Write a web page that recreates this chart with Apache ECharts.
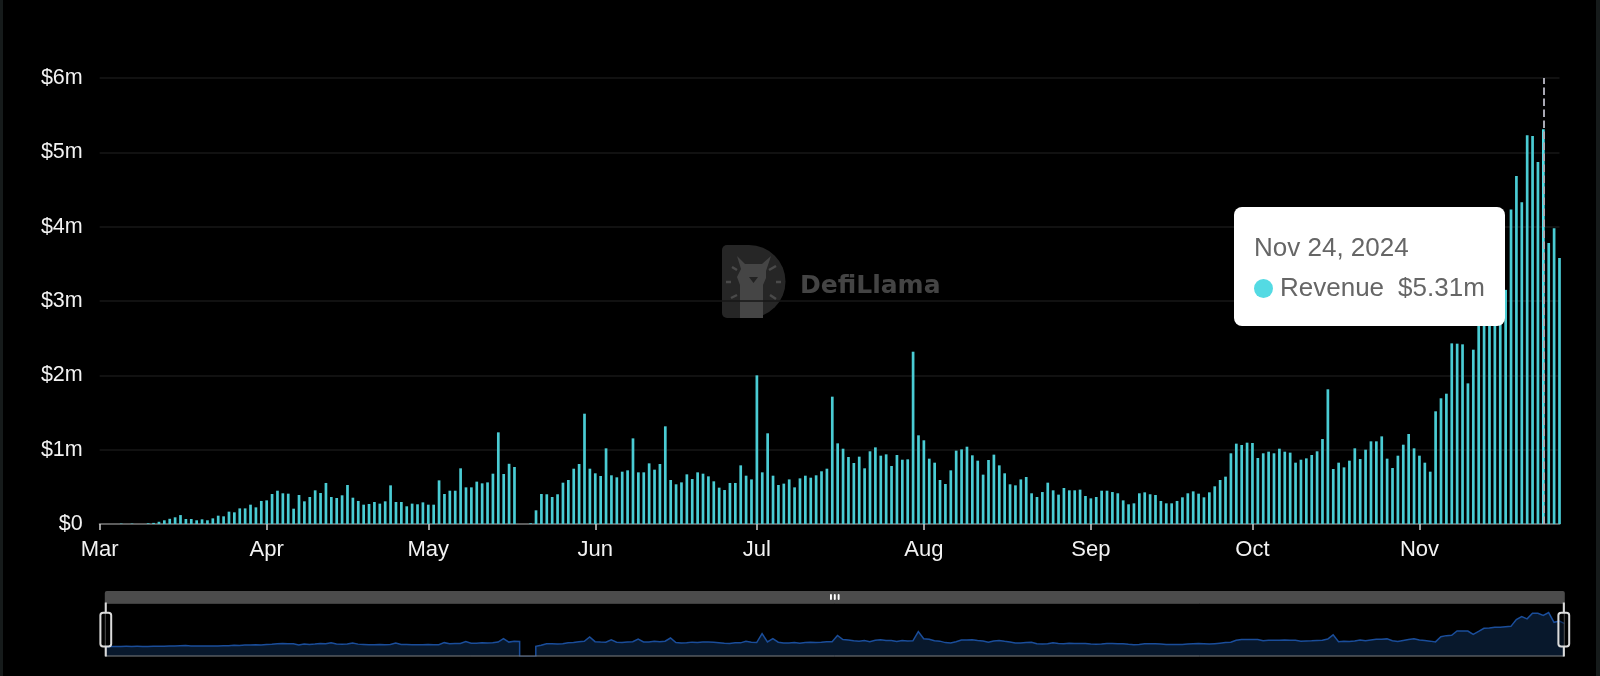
<!DOCTYPE html>
<html>
<head>
<meta charset="utf-8">
<style>html,body{margin:0;padding:0;background:#000}#c{width:1600px;height:676px}</style>
<script src="https://cdn.jsdelivr.net/npm/echarts@6/dist/echarts.min.js"></script>
</head>
<body>
<div id="c"></div>
<script>
// Daily revenue in $ millions, one entry per day from Mar 1, 2024
const revenue = [
0,0,0,0,0.005,0,0.005,0,0,0.01,0.015,0.03,0.05,0.07,0.09,0.12,
0.067,0.067,0.05,0.063,0.05,0.076,0.112,0.103,0.166,0.157,0.21,0.21,0.26,0.224,0.31,0.318,
0.404,0.448,0.413,0.408,0.206,0.39,0.305,0.363,0.453,0.417,0.552,0.363,0.35,0.386,0.525,0.354,
0.31,0.26,0.269,0.296,0.274,0.305,0.52,0.296,0.296,0.238,0.274,0.265,0.291,0.26,0.26,0.587,
0.404,0.448,0.448,0.749,0.493,0.493,0.57,0.547,0.56,0.677,1.233,0.673,0.81,0.767,null,null,
0.01,0.184,0.404,0.40,0.363,0.40,0.556,0.592,0.744,0.807,1.484,0.744,0.682,0.646,1.018,0.655,
0.628,0.704,0.722,1.152,0.695,0.695,0.816,0.731,0.807,1.314,0.592,0.534,0.56,0.668,0.605,0.695,
0.677,0.641,0.574,0.489,0.457,0.552,0.552,0.789,0.65,0.60,2.0,0.695,1.22,0.65,0.525,0.543,
0.60,0.493,0.614,0.65,0.623,0.655,0.709,0.744,1.713,1.085,1.013,0.901,0.821,0.906,0.749,0.978,
1.031,0.919,0.937,0.78,0.928,0.865,0.87,2.318,1.193,1.126,0.879,0.825,0.592,0.538,0.722,0.987,
1.004,1.04,0.924,0.852,0.664,0.861,0.933,0.789,0.682,0.534,0.52,0.60,0.632,0.413,0.363,0.43,
0.556,0.453,0.395,0.484,0.453,0.453,0.462,0.377,0.345,0.363,0.448,0.448,0.43,0.413,0.318,0.265,
0.278,0.413,0.426,0.40,0.39,0.31,0.278,0.278,0.31,0.359,0.413,0.439,0.408,0.359,0.426,0.507,
0.592,0.637,0.951,1.081,1.063,1.094,1.09,0.888,0.951,0.973,0.951,1.013,0.973,0.96,0.825,0.865,
0.883,0.928,0.978,1.143,1.812,0.74,0.825,0.762,0.852,1.018,0.874,1.0,1.112,1.112,1.179,0.879,
0.753,0.919,1.067,1.211,1.018,0.919,0.825,0.704,1.516,1.691,1.753,2.43,2.426,2.417,1.892,2.345,
2.85,2.9,3.0,3.0,3.1,3.15,4.23,4.68,4.33,5.23,5.22,4.87,5.31,3.78,3.98,3.58
];
const monthLabels = ['Mar','Apr','May','Jun','Jul','Aug','Sep','Oct','Nov'];
const monthStarts = [0,31,61,92,122,153,184,214,245];
const startDate = Date.UTC(2024,2,1);
const tooltipIndex = 268;
const seriesName = 'Revenue';
const barColor = '#4accd4';
const dotColor = '#54dae3';

const dayCats = revenue.map((_, i) => new Date(startDate + i*864e5)
  .toLocaleDateString('en-US',{month:'short',day:'numeric',year:'numeric',timeZone:'UTC'}));
const isMonth = i => monthStarts.indexOf(i) >= 0;
const font = '"Liberation Sans", Arial, sans-serif';

const chart = echarts.init(document.getElementById('c'), null, {renderer:'canvas'});
chart.setOption({
  animation:false,
  backgroundColor:'#000',
  textStyle:{fontFamily:font},
  grid:{left:99.7,right:40.5,top:78,bottom:152,containLabel:false},
  xAxis:{
    type:'category',
    data:dayCats,
    boundaryGap:false,
    axisLine:{show:true,lineStyle:{color:'#5c5c5c',width:2}},
    axisTick:{show:true,length:6,interval:(i)=>isMonth(i),lineStyle:{color:'#d0d0d0',width:1.5}},
    axisLabel:{show:true,interval:(i)=>isMonth(i),color:'#f2f2f2',fontSize:22,margin:15,fontFamily:font,
      formatter:(v,i)=>monthLabels[monthStarts.indexOf(i)]},
    splitLine:{show:false}
  },
  yAxis:{
    type:'value',min:0,max:6,interval:1,
    axisLine:{show:false},axisTick:{show:false},
    axisLabel:{color:'#f2f2f2',fontSize:21.5,margin:17,fontFamily:font,
      formatter:v=>v===0?'$0':'$'+v+'m'},
    splitLine:{lineStyle:{color:'#171717',width:1.5}}
  },
  tooltip:{
    trigger:'axis',triggerOn:'none',alwaysShowContent:true,transitionDuration:0,
    backgroundColor:'#fff',borderWidth:0,padding:0,
    extraCssText:'border-radius:8px;box-shadow:none;width:271px;height:119px;',
    position:()=>[1234,207],
    axisPointer:{type:'line',lineStyle:{color:'#a9a9b4',width:2,type:[7.5,3.5]}},
    formatter:(ps)=>{const p=ps[0];
      return '<div style="font-family:'+font.replace(/"/g,"'")+';color:#666;font-size:26px;line-height:40px;padding:20px 0 0 20px;white-space:nowrap">'+
      '<div>'+p.name+'</div><div>'+
      '<span style="display:inline-block;width:19px;height:19px;border-radius:50%;background:'+dotColor+';margin-right:7px;vertical-align:-2px"></span>'+
      p.seriesName+'<span style="margin-left:14px">$'+p.value.toFixed(2)+'m</span></div></div>';}
  },
  dataZoom:[{
    type:'slider',start:0,end:100,left:100,right:40,top:591,height:54,
    showDetail:false,brushSelect:true,showDataShadow:true,
    backgroundColor:'rgba(0,0,0,0)',fillerColor:'rgba(0,0,0,0)',
    borderColor:'#7c7c7c',borderRadius:0,
    moveHandleSize:12,
    moveHandleStyle:{color:'#4c4c4c',opacity:1},
    handleIcon:'path://M-9.35,34.56V42m0-40V9.5m-2,0h4a2,2,0,0,1,2,2v21a2,2,0,0,1-2,2h-4a2,2,0,0,1-2-2v-21A2,2,0,0,1-11.35,9.5Z',
    handleSize:'100%',
    handleStyle:{color:'rgba(0,0,0,0.35)',borderColor:'#dcdcdc',borderWidth:2},
    dataBackground:{lineStyle:{color:'#1a4d9a',width:1.5,opacity:1},areaStyle:{color:'#08182c',opacity:1}},
    selectedDataBackground:{lineStyle:{color:'#1a4d9a',width:1.5,opacity:1},areaStyle:{color:'#08182c',opacity:1}}
  }],
  series:[{
    name:seriesName,type:'bar',data:revenue,barWidth:2.7,clip:false,
    itemStyle:{color:barColor}
  }],
  graphic:[
    {type:'rect',z:100,shape:{x:0,y:0,width:3,height:676},style:{fill:'#161b1b'}},
    {type:'rect',z:100,shape:{x:1596,y:0,width:4,height:676},style:{fill:'#161b1b'}},
    {type:'group',x:722,y:245,z:-1,children:[
      {type:'rect',shape:{x:0,y:0,width:27,height:73,r:[5,0,0,5]},style:{fill:'#262626'}},
      {type:'sector',shape:{cx:27,cy:36.5,r:36.5,r0:0,startAngle:-Math.PI/2,endAngle:Math.PI/2},style:{fill:'#262626'}},
      {type:'polygon',shape:{points:[[15,11],[23,19],[40,19],[49,11],[44,26],[44,33],[41,40],[41,73],[18,73],[18,40],[15,32],[19,24]]},style:{fill:'#454545'}},
      {type:'polygon',shape:{points:[[27,32],[36,32],[31.5,38]]},style:{fill:'#222'}},
      {type:'line',shape:{x1:10,y1:22,x2:15,y2:25},style:{stroke:'#4a4a4a',lineWidth:2.5}},
      {type:'line',shape:{x1:4,y1:37,x2:9,y2:37},style:{stroke:'#4a4a4a',lineWidth:2.5}},
      {type:'line',shape:{x1:9,y1:53,x2:15,y2:50},style:{stroke:'#4a4a4a',lineWidth:2.5}},
      {type:'line',shape:{x1:47,y1:25,x2:54,y2:21},style:{stroke:'#4a4a4a',lineWidth:2.5}},
      {type:'line',shape:{x1:54,y1:37,x2:59,y2:37},style:{stroke:'#4a4a4a',lineWidth:2.5}},
      {type:'line',shape:{x1:48,y1:50,x2:54,y2:54},style:{stroke:'#4a4a4a',lineWidth:2.5}},
      {type:'text',x:78,y:41,style:{text:'DefiLlama',fill:'#444',font:'bold 25px "DejaVu Sans", sans-serif',verticalAlign:'middle'}}
    ]}
  ]
});
chart.dispatchAction({type:'showTip',seriesIndex:0,dataIndex:tooltipIndex});
</script>
</body>
</html>
